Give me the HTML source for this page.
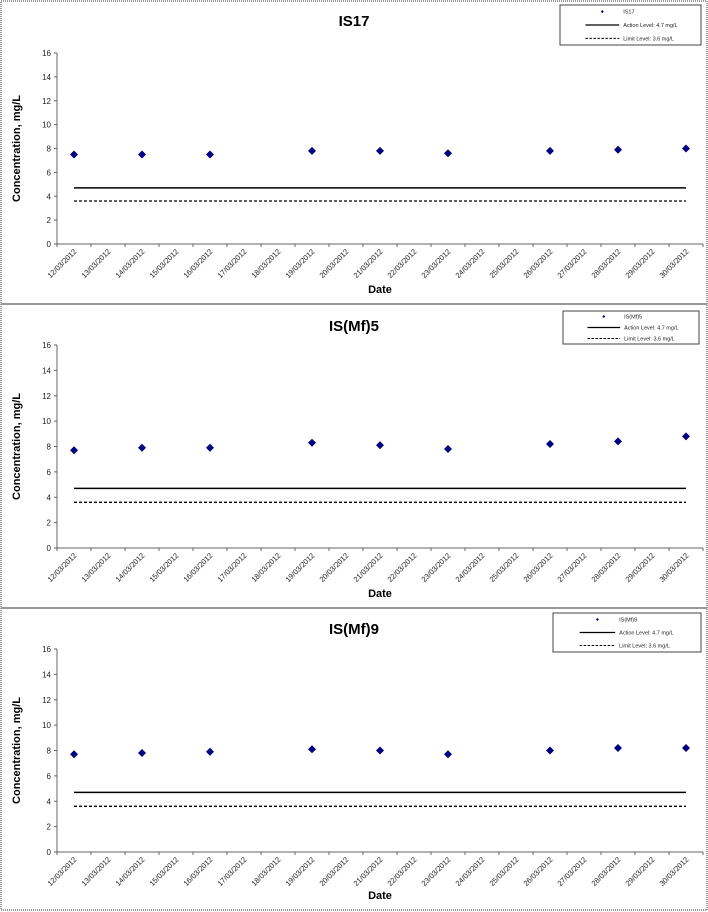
<!DOCTYPE html>
<html><head><meta charset="utf-8">
<style>
html,body{margin:0;padding:0;background:#fff;}
svg{display:block;font-family:"Liberation Sans",Arial,sans-serif;}
</style></head>
<body>
<svg id="chart" width="708" height="912" viewBox="0 0 708 912" xmlns="http://www.w3.org/2000/svg"></svg>
<script>
const categories = ["12/03/2012","13/03/2012","14/03/2012","15/03/2012","16/03/2012","17/03/2012","18/03/2012","19/03/2012","20/03/2012","21/03/2012","22/03/2012","23/03/2012","24/03/2012","25/03/2012","26/03/2012","27/03/2012","28/03/2012","29/03/2012","30/03/2012"];
const sampleDates = ["12/03/2012","14/03/2012","16/03/2012","19/03/2012","21/03/2012","23/03/2012","26/03/2012","28/03/2012","30/03/2012"];
const seriesIS17 = [7.5,7.5,7.5,7.8,7.8,7.6,7.8,7.9,8.0];
const seriesMf5 = [7.7,7.9,7.9,8.3,8.1,7.8,8.2,8.4,8.8];
const seriesMf9 = [7.7,7.8,7.9,8.1,8.0,7.7,8.0,8.2,8.2];
const yTicks = [0,2,4,6,8,10,12,14,16];
const actionLevel = 4.7;
const limitLevel = 3.6;
const titles = ["IS17","IS(Mf)5","IS(Mf)9"];

const NS="http://www.w3.org/2000/svg";
const svg=document.getElementById('chart');
function mk(tag,attrs,parent,text){const e=document.createElementNS(NS,tag);for(const k in attrs)e.setAttribute(k,attrs[k]);if(text!==undefined)e.textContent=text;(parent||svg).appendChild(e);return e;}

// page border & separators
const border=mk('rect',{x:1,y:1,width:706,height:909,fill:'none',stroke:'#333','stroke-dasharray':'1,1'});



const panels=[
 {top:0,bottom:303,yTop:53,yBot:244,series:seriesIS17,legend:{x:560,y:5,w:141,h:40},titleY:26,dateY:293},
 {top:305,bottom:607,yTop:345,yBot:548,series:seriesMf5,legend:{x:563,y:311,w:136,h:33},titleY:331,dateY:597},
 {top:609,bottom:910,yTop:649,yBot:852,series:seriesMf9,legend:{x:553,y:613,w:148,h:39},titleY:634,dateY:899}
];
[305,609].forEach(function(y,i){
 const l=mk('line',{x1:1,x2:707,y1:y-1,y2:y-1,stroke:'#999','stroke-width':2});
 
 
});

const xL=57,xR=703;
const bw=(xR-xL)/categories.length;
function xPos(cat){return xL+(categories.indexOf(cat)+0.5)*bw;}

panels.forEach(function(p,pi){
 const g=mk('g',{});
 
 
 function yPos(v){return p.yBot-(v/16)*(p.yBot-p.yTop);}
 const t=mk('text',{x:354,y:p.titleY,'text-anchor':'middle','font-size':15,'font-weight':'bold'},g,titles[pi]);
 
 
 // axes
 const ya=mk('line',{x1:xL,x2:xL,y1:p.yTop,y2:p.yBot,stroke:'#666','stroke-width':1},g);
 
 
 const xa=mk('line',{x1:xL,x2:xR,y1:p.yBot,y2:p.yBot,stroke:'#666','stroke-width':1},g);
 
 
 yTicks.forEach(function(v){
  const y=yPos(v);
  const tk=mk('line',{x1:xL-3,x2:xL,y1:y,y2:y,stroke:'#666'},g);
  
  
  const tl=mk('text',{x:xL-6,y:y+3,'text-anchor':'end','font-size':8,fill:'#222'},g,String(v));
  
  
 });
 for(let i=0;i<=categories.length;i++){
  const x=xL+i*bw;
  const tk=mk('line',{x1:x,x2:x,y1:p.yBot,y2:p.yBot+3,stroke:'#666'},g);
  
  
 }
 categories.forEach(function(c){
  const x=xPos(c);
  const tl=mk('text',{x:x+3,y:p.yBot+8,'text-anchor':'end','font-size':7.5,fill:'#222',transform:'rotate(-45 '+(x+3)+' '+(p.yBot+8)+')'},g,c);
  
  
 });
 const yt=mk('text',{x:0,y:0,'text-anchor':'middle','font-size':11,'font-weight':'bold',transform:'translate(20 '+((p.yTop+p.yBot)/2)+') rotate(-90)'},g,'Concentration, mg/L');
 
 
 const dt=mk('text',{x:380,y:p.dateY,'text-anchor':'middle','font-size':11,'font-weight':'bold'},g,'Date');
 
 
 // level lines
 const x0=xPos(categories[0]),x1=xPos(categories[categories.length-1]);
 const al=mk('line',{x1:x0,x2:x1,y1:yPos(actionLevel),y2:yPos(actionLevel),stroke:'#000','stroke-width':1.5},g);
 
 
 const ll=mk('line',{x1:x0,x2:x1,y1:yPos(limitLevel),y2:yPos(limitLevel),stroke:'#000','stroke-width':1.3,'stroke-dasharray':'3,2'},g);
 
 
 // points
 p.series.forEach(function(v,i){
  const x=xPos(sampleDates[i]),y=yPos(v);
  const pt=mk('polygon',{points:(x)+','+(y-4)+' '+(x+4)+','+y+' '+x+','+(y+4)+' '+(x-4)+','+y,fill:'#000080'},g);
  
  
 });
 // legend
 const L=p.legend;
 const lg=mk('g',{},g);
 
 
 mk('rect',{x:L.x,y:L.y,width:L.w,height:L.h,fill:'#fff',stroke:'#444','stroke-width':1},lg);
 const rh=L.h/3;
 const sx=L.x+L.w*0.18, ex=L.x+L.w*0.42;
 const cx=(sx+ex)/2;
 const e1=mk('polygon',{points:cx+','+(L.y+rh*0.5-1.5)+' '+(cx+1.5)+','+(L.y+rh*0.5)+' '+cx+','+(L.y+rh*0.5+1.5)+' '+(cx-1.5)+','+(L.y+rh*0.5),fill:'#000080'},lg);
 
 
 mk('text',{x:ex+4,y:L.y+rh*0.5+2,'font-size':5.5,fill:'#222'},lg,titles[pi]);
 mk('line',{x1:sx,x2:ex,y1:L.y+rh*1.5,y2:L.y+rh*1.5,stroke:'#000','stroke-width':1.3},lg);
 mk('text',{x:ex+4,y:L.y+rh*1.5+2,'font-size':5.5,fill:'#222'},lg,'Action Level: 4.7 mg/L');
 mk('line',{x1:sx,x2:ex,y1:L.y+rh*2.5,y2:L.y+rh*2.5,stroke:'#000','stroke-width':1,'stroke-dasharray':'2.5,1.5'},lg);
 mk('text',{x:ex+4,y:L.y+rh*2.5+2,'font-size':5.5,fill:'#222'},lg,'Limit Level: 3.6 mg/L');
});
</script>
</body></html>
